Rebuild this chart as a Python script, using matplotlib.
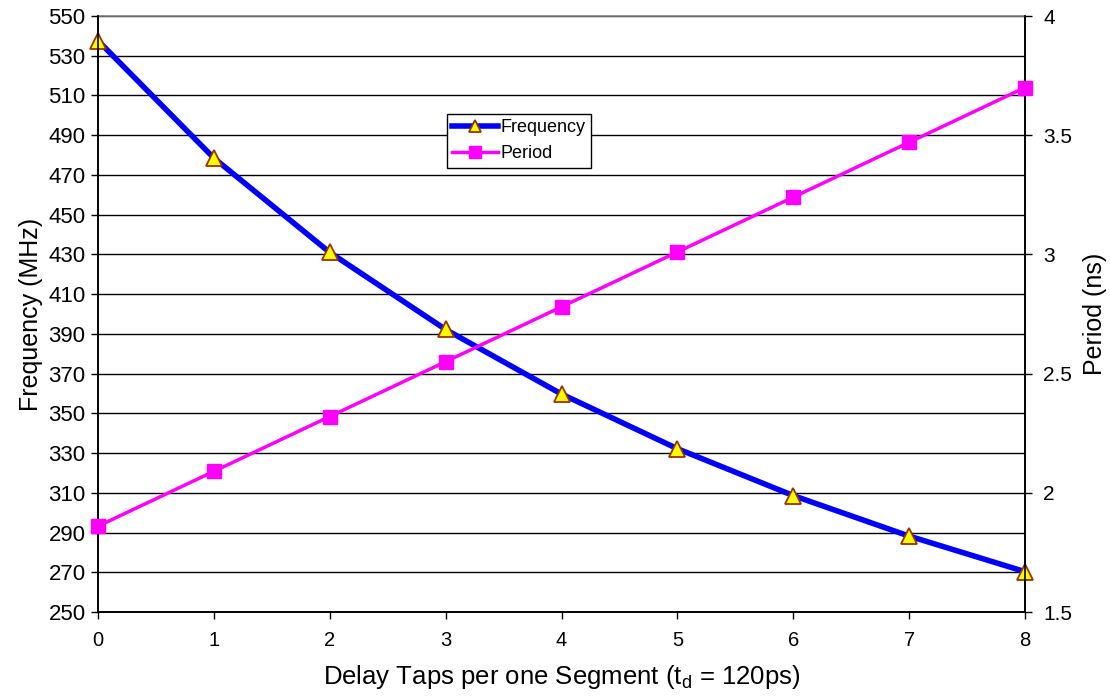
import matplotlib
matplotlib.use("Agg")
import matplotlib.pyplot as plt
from matplotlib.lines import Line2D

plt.rcParams['font.family'] = ['Liberation Sans', 'DejaVu Sans']

taps = [0, 1, 2, 3, 4, 5, 6, 7, 8]
frequency_mhz = [537.6, 478.5, 431.0, 392.2, 359.7, 332.2, 308.6, 288.2, 270.3]
period_ns = [1.86, 2.09, 2.32, 2.55, 2.78, 3.01, 3.24, 3.47, 3.70]
freq_ticks = list(range(250, 551, 20))
period_ticks = [1.5, 2, 2.5, 3, 3.5, 4]
period_labels = ['1.5', '2', '2.5', '3', '3.5', '4']

fig = plt.figure(figsize=(11.1, 6.98), dpi=100)
ax = fig.add_axes([98 / 1110, 1 - 612 / 698, 927 / 1110, 596 / 698])
ax2 = ax.twinx()

ax.set_xlim(0, 8)
ax.set_ylim(250, 550)
ax2.set_ylim(1.5, 4)

ax.set_yticks(freq_ticks)
ax.set_xticks(taps)
ax2.set_yticks(period_ticks)
ax2.set_yticklabels(period_labels)

for y in freq_ticks[1:]:
    ax.axhline(y, color='black', lw=1.0, zorder=0)

ax.plot(taps, frequency_mhz, color='#0000ff', lw=4, marker='^', ms=11,
        mfc='#ffff00', mec='#993300', mew=1.3, zorder=5, clip_on=False)
ax2.plot(taps, period_ns, color='#ff00ff', lw=2.5, marker='s', ms=10.5,
         mfc='#ff00ff', mec='#ff00ff', zorder=4, clip_on=False)

for a in (ax, ax2):
    a.spines['top'].set_visible(False)
    for s in ('left', 'right', 'bottom'):
        a.spines[s].set_color('black')
        a.spines[s].set_linewidth(1.2)
ax.spines['top'].set_visible(True)
ax.spines['top'].set_color('#808080')
ax.spines['top'].set_linewidth(1.2)

ax.tick_params(axis='y', labelsize=16, direction='out', length=5, width=1, pad=4)
ax.tick_params(axis='x', labelsize=14.5, direction='out', length=5, width=1, pad=9)
ax2.tick_params(axis='y', labelsize=15, direction='out', length=5, width=1, pad=8)

ax.set_xlabel('Delay Taps per one Segment (t$_\\mathregular{d}$ = 120ps)', fontsize=18.5, labelpad=9)
ax.set_ylabel('Frequency (MHz)', fontsize=18, labelpad=4)
ax2.set_ylabel('Period (ns)', fontsize=18, labelpad=8)

handles = [
    Line2D([], [], color='#0000ff', lw=4, marker='^', ms=9, mfc='#ffff00', mec='#993300', mew=1.3),
    Line2D([], [], color='#ff00ff', lw=2.5, marker='s', ms=9, mfc='#ff00ff', mec='#ff00ff'),
]
leg = ax.legend(handles, ['Frequency', 'Period'], loc='upper left',
                bbox_to_anchor=((447 - 98) / 927, (612 - 114) / 596),
                fontsize=13, frameon=True, fancybox=False, edgecolor='black',
                framealpha=1, handlelength=2.5, handletextpad=0.15,
                borderpad=0.3, labelspacing=0.5, borderaxespad=0)
leg.get_frame().set_linewidth(1.0)
leg.set_zorder(10)

fig.savefig('out.png', dpi=100)
